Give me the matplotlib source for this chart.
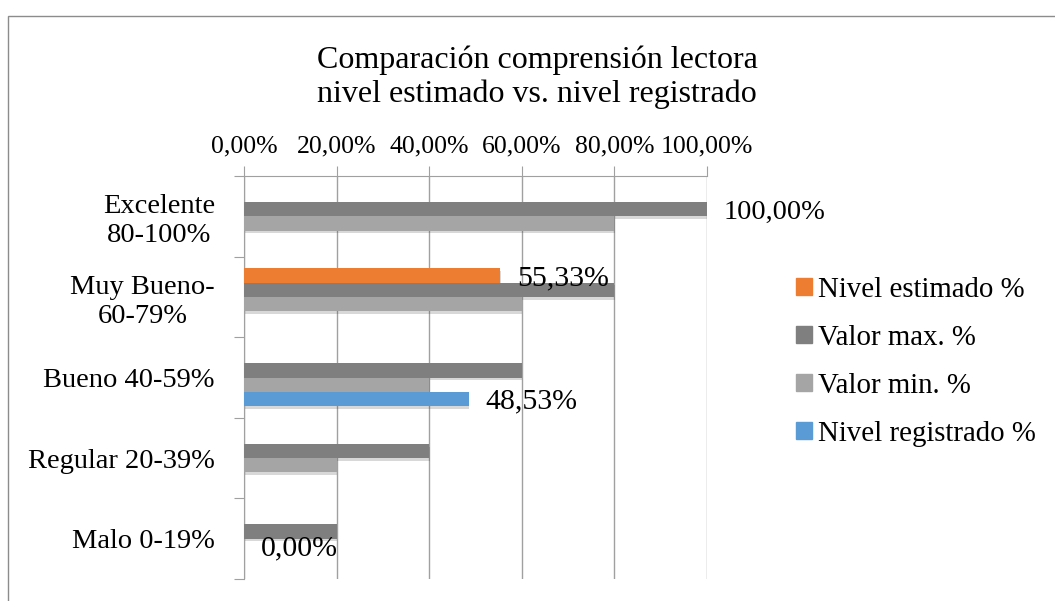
import numpy as np
import matplotlib.pyplot as plt
import matplotlib.patheffects as pe
from matplotlib.patches import Rectangle, Patch

plt.rcParams['font.family'] = ['Liberation Serif', 'DejaVu Serif']

# datos
categorias = ['Excelente\n80-100%', 'Muy Bueno-\n60-79%', 'Bueno 40-59%',
              'Regular 20-39%', 'Malo 0-19%']
series = ['Nivel estimado %', 'Valor max. %', 'Valor min. %', 'Nivel registrado %']
nivel_estimado = [np.nan, 55.33, np.nan, np.nan, np.nan]
valor_max = [100, 80, 60, 40, 20]
valor_min = [80, 60, 40, 20, 0]
nivel_registrado = [np.nan, np.nan, 48.53, np.nan, np.nan]
colores = ['#ED7D31', '#7F7F7F', '#A5A5A5', '#5B9BD5']
ticks_x = [0, 20, 40, 60, 80, 100]
# etiquetas de datos visibles: (serie, categoria)
etiquetas = [(1, 0), (0, 1), (3, 2), (2, 4)]

valores = [nivel_estimado, valor_max, valor_min, nivel_registrado]

fig = plt.figure(figsize=(10.55, 6.01), dpi=100)
ax = fig.add_axes([244/1055, 1 - 579/601, (707-244)/1055, (579-176)/601])

# marco del grafico
fig.patches.append(Rectangle((8/1055, -0.1), 1.2, 1.1 - 16/601,
                             transform=fig.transFigure, fill=False,
                             edgecolor='#8C8C8C', linewidth=1))

y = np.arange(len(categorias))
h = 0.1775
sombra = [pe.SimplePatchShadow(offset=(0.5, -2), shadow_rgbFace='#404040', alpha=0.2), pe.Normal()]
for j, (vals, c) in enumerate(zip(valores, colores)):
    ax.barh(y + (j - 1.5) * h, vals, height=h, color=c, zorder=3,
            path_effects=sombra)

def fmt(v):
    return f'{v:.2f}%'.replace('.', ',')

for j, i in etiquetas:
    v = valores[j][i]
    fs = 20.5 if v == 100 else 21.5
    ax.annotate(fmt(v), (v, y[i] + (j - 1.5) * h), xytext=(12, -2),
                textcoords='offset points', ha='left', va='center',
                fontsize=fs, zorder=5)

ax.set_xlim(0, 100)
ax.set_ylim(len(categorias) - 0.5, -0.5)
ax.xaxis.tick_top()
ax.set_xticks(ticks_x)
ax.set_xticklabels([fmt(t) for t in ticks_x], fontsize=18.5)
ax.set_yticks(np.arange(len(categorias) + 1) - 0.5)
ax.set_yticklabels([])
ax.set_yticks(y, minor=True)
ax.set_yticklabels(categorias, minor=True, fontsize=20.5, multialignment='center')
ax.tick_params(axis='y', which='minor', length=0, pad=21)
ax.tick_params(axis='y', which='major', length=7, color='#A0A0A0')
ax.tick_params(axis='x', length=7, color='#A0A0A0', pad=6)
ax.grid(axis='x', color='#A0A0A0', linewidth=1, zorder=0)
for s in ['right', 'bottom']:
    ax.spines[s].set_visible(False)
for s in ['left', 'top']:
    ax.spines[s].set_color('#A0A0A0')

fig.text(537/1055, 1 - 77/601, 'Comparación comprensión lectora\nnivel estimado vs. nivel registrado',
         ha='center', va='center', fontsize=23, linespacing=1.2)

handles = [Patch(color=c) for c in colores]
fig.legend(handles, series, loc='upper left', bbox_to_anchor=(796/1055, 1 - 277/601),
           frameon=False, fontsize=20.8, handlelength=0.55, handleheight=0.55,
           handletextpad=0.2, labelspacing=0.76, borderpad=0, borderaxespad=0)

plt.savefig('out.png', dpi=100)
